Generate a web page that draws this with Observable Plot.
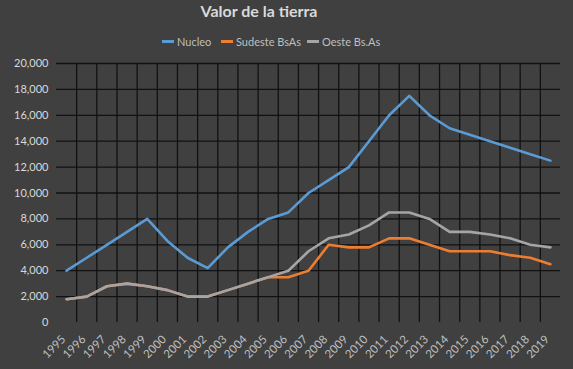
<!DOCTYPE html>
<html>
<head>
<meta charset="utf-8">
<script src="https://cdn.jsdelivr.net/npm/d3@7"></script>
<script src="https://cdn.jsdelivr.net/npm/@observablehq/plot@0.6"></script>
<style>
  html, body { margin: 0; padding: 0; background: #404040; }
  #wrap { position: relative; width: 573px; height: 369px; background: #404040; overflow: hidden; font-family: Lato, "Open Sans", sans-serif; }
  #head { position: relative; width: 573px; height: 56px; }
  #title { position: absolute; left: 0; width: 518px; top: 1px; text-align: center; font-weight: bold; font-size: 16px; color: #d9d9d9; }
  .leg { position: absolute; top: 35px; font-size: 11px; color: #bfbfbf; white-space: nowrap; display: flex; align-items: center; }
  .sw { display: inline-block; width: 12px; height: 2.5px; margin-right: 3px; }
</style>
</head>
<body>
<div id="wrap">
  <div id="head">
    <div id="title">Valor de la tierra</div>
    <div id="legend"></div>
  </div>
  <div id="chart"></div>
</div>
<script>
const years = [1995,1996,1997,1998,1999,2000,2001,2002,2003,2004,2005,2006,2007,2008,2009,2010,2011,2012,2013,2014,2015,2016,2017,2018,2019];
const nucleo  = [4000,5000,6000,7000,8000,6300,5000,4200,5800,7000,8000,8500,10000,11000,12000,14000,16000,17500,16000,15000,14500,14000,13500,13000,12500];
const sudeste = [1800,2000,2800,3000,2800,2500,2000,2000,2500,3000,3500,3500,4000,6000,5800,5800,6500,6500,6000,5500,5500,5500,5200,5000,4500];
const oeste   = [1800,2000,2800,3000,2800,2500,2000,2000,2500,3000,3500,4000,5500,6500,6800,7500,8500,8500,8000,7000,7000,6800,6500,6000,5800];
const seriesNames = ["Nucleo", "Sudeste BsAs", "Oeste Bs.As"];
const seriesColors = ["#5b9bd5", "#ed7d31", "#a5a5a5"];
const yTicks = [0,2000,4000,6000,8000,10000,12000,14000,16000,18000,20000];

const seriesValues = [nucleo, sudeste, oeste];
const data = seriesValues.flatMap((vals, si) => vals.map((v, i) => ({year: years[i], value: v, series: seriesNames[si]})));
const between = years.slice(0, -1).map(y => y + 0.5);

// legend
const legendLefts = [162, 221, 307];
const legend = document.getElementById("legend");
seriesNames.forEach((n, i) => {
  const d = document.createElement("div");
  d.className = "leg";
  d.style.left = legendLefts[i] + "px";
  d.innerHTML = `<span class="sw" style="background:${seriesColors[i]}"></span>${n}`;
  legend.appendChild(d);
});

const chart = Plot.plot({
  width: 573,
  height: 313,
  marginTop: 7,
  marginBottom: 47,
  marginLeft: 56,
  marginRight: 13,
  style: {background: "#404040", fontFamily: "Lato, 'Open Sans', sans-serif", fontSize: "11px", color: "#d9d9d9"},
  x: {type: "linear", domain: [years[0] - 0.5, years[years.length - 1] + 0.5]},
  y: {domain: [0, 20000]},
  color: {domain: seriesNames, range: seriesColors},
  marks: [
    Plot.ruleY(yTicks.filter(d => d > 0), {stroke: "#111", strokeWidth: 1.3}),
    Plot.ruleX(between, {stroke: "#111", strokeWidth: 1.3}),
    Plot.axisY({ticks: yTicks, tickFormat: d3.format(","), tickSize: 0, tickPadding: 8, label: null, fill: "#d9d9d9"}),
    Plot.axisX({ticks: years, tickFormat: d => String(d), tickSize: 0, tickPadding: 15, dx: -3, tickRotate: -45, label: null, fill: "#bfbfbf", fontSize: 11.5}),
    Plot.line(data, {x: "year", y: "value", z: "series", stroke: "series", strokeWidth: 2.6, strokeLinejoin: "round", strokeLinecap: "round"})
  ]
});
document.getElementById("chart").appendChild(chart);
</script>
</body>
</html>
